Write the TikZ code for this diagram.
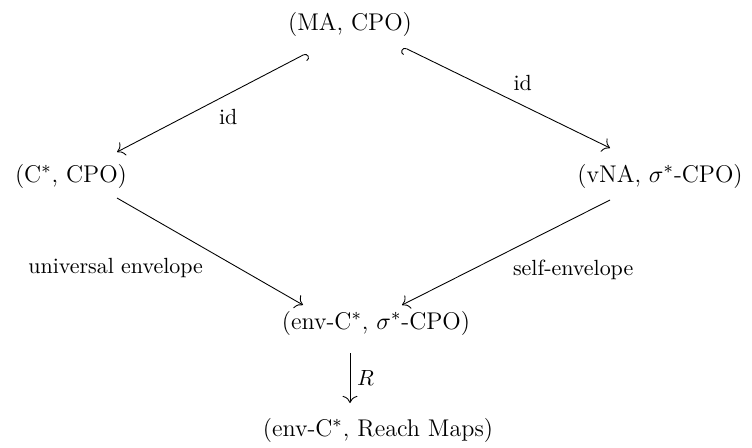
\documentclass[tikz,border=0pt]{standalone}
\usepackage{amsmath,amssymb}
\usepackage{tikz}
\usetikzlibrary{positioning}
\usetikzlibrary{calc}
\usetikzlibrary{arrows.meta}
\tikzset{>={Computer Modern Rightarrow[scale=1.3]}}

\begin{document}
\begin{tikzpicture}
	[x=0.016cm,y=-0.016cm,
	obj/.style={inner sep=0pt,font=\fontsize{11}{13}\selectfont},
	lbl/.style={font=\fontsize{10}{12}\selectfont,inner sep=3pt},
	hookl/.style={{Hooks[right,scale=1.4]}->},
	hookr/.style={{Hooks[left,scale=1.4]}->},
	map/.style={->}]
	\useasboundingbox (0,0) rectangle (752,447);
	\node [obj] (ma) at (350,24) {(MA, CPO)};
	\node [obj] (cs) at (71,176) {(C$^*$, CPO)};
	\node [obj] (vna) at (660,176) {(vNA, $\sigma^*$-CPO)};
	\node [obj] (env) at (376,323) {(env-C$^*$, $\sigma^*$-CPO)};
	\node [obj] (reach) at (378,430) {(env-C$^*$, Reach Maps)};
	\draw[hookl] ($(ma)+(-43,29)$) to node [lbl,auto] {id} ($(cs)+(46,-24)$);
	\draw[hookr] ($(ma)+(53,23)$) to node [lbl,auto] {id} ($(vna)+(-50,-28)$);
	\draw[map] ($(cs)+(46,22)$) to node [lbl,auto,swap] {universal envelope} ($(env)+(-73,-18)$);
	\draw[map] ($(vna)+(-50,24)$) to node [lbl,auto] {self-envelope} ($(env)+(26,-18)$);
	\draw[map] ($(env)+(-26,30)$) to node [lbl,auto] {$R$} ($(reach)+(-28,-27)$);
\end{tikzpicture}
\end{document}
